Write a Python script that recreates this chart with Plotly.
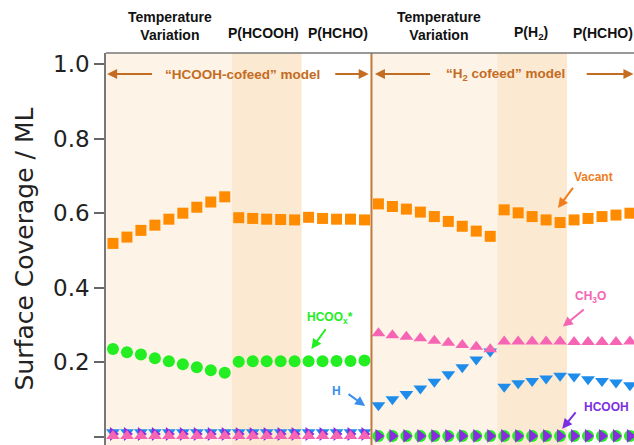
import plotly.graph_objects as go

# ---- data ----
# "HCOOH-cofeed" model: 9 temperature points, 5 P(HCOOH), 5 P(HCHO)
vacant_m1 = [0.519, 0.536, 0.554, 0.568, 0.584, 0.600, 0.616, 0.630, 0.644,
             0.588, 0.586, 0.584, 0.583, 0.582,
             0.589, 0.586, 0.584, 0.584, 0.582]
hcoox_m1 = [0.236, 0.227, 0.221, 0.211, 0.203, 0.195, 0.187, 0.179, 0.172,
            0.202, 0.203, 0.203, 0.203, 0.203,
            0.203, 0.203, 0.204, 0.204, 0.205]
h_m1 = [0.013] * 19
hcooh_m1 = [0.008] * 19
ch3o_m1 = [0.003] * 19

# "H2 cofeed" model: 9 temperature points, 5 P(H2), 5 P(HCHO)
vacant_m2 = [0.625, 0.618, 0.611, 0.603, 0.591, 0.578, 0.565, 0.552, 0.538,
             0.609, 0.601, 0.591, 0.582, 0.575,
             0.582, 0.586, 0.591, 0.595, 0.600]
ch3o_m2 = [0.278, 0.273, 0.269, 0.265, 0.258, 0.253, 0.247, 0.242, 0.235,
           0.256, 0.256, 0.256, 0.256, 0.256,
           0.255, 0.255, 0.255, 0.255, 0.256]
h_m2 = [0.085, 0.101, 0.115, 0.130, 0.148, 0.168, 0.187, 0.208, 0.229,
        0.135, 0.144, 0.150, 0.157, 0.164,
        0.162, 0.155, 0.150, 0.146, 0.139]
hcoox_m2 = [0.003] * 19
hcooh_m2 = [0.003] * 19

x_m1 = list(range(0, 19))
x_m2 = list(range(19, 38))
xs = x_m1 + x_m2

group_labels = ["Temperature<br>Variation", "P(HCOOH)", "P(HCHO)",
                "Temperature<br>Variation", "P(H<sub>2</sub>)", "P(HCHO)"]
group_centers = [4.1, 10.8, 16.1, 23.3, 29.9, 35.1]

ORANGE = "#FF8C00"
GREEN = "#22EE22"
BLUE = "#1E8CEB"
PURPLE = "#8A2BE2"
PINK = "#F565B4"
BROWN = "#C46C22"

fig = go.Figure()

def add(y, sym, col, size, name):
    fig.add_trace(go.Scatter(x=xs, y=y, mode="markers", name=name,
                             marker=dict(symbol=sym, color=col, size=size,
                                         line=dict(width=0)),
                             showlegend=False, cliponaxis=False))

add(vacant_m1 + vacant_m2, "square", ORANGE, 11, "Vacant")
add(hcoox_m1 + hcoox_m2, "circle", GREEN, 12, "HCOOx*")
add(h_m1 + h_m2, "triangle-down", BLUE, 12, "H")
add(hcooh_m1 + hcooh_m2, "triangle-right", PURPLE, 12, "HCOOH")
add(ch3o_m1 + ch3o_m2, "triangle-up", PINK, 12, "CH3O")

LIGHT = "#FDF3E7"
DARK = "#FCE9D2"
shapes = [
    dict(type="rect", xref="x", yref="paper", x0=-0.5, x1=8.5, y0=0, y1=1,
         fillcolor=LIGHT, line_width=0, layer="below"),
    dict(type="rect", xref="x", yref="paper", x0=8.5, x1=13.5, y0=0, y1=1,
         fillcolor=DARK, line_width=0, layer="below"),
    dict(type="rect", xref="x", yref="paper", x0=18.5, x1=27.5, y0=0, y1=1,
         fillcolor=LIGHT, line_width=0, layer="below"),
    dict(type="rect", xref="x", yref="paper", x0=27.5, x1=32.5, y0=0, y1=1,
         fillcolor=DARK, line_width=0, layer="below"),
    dict(type="line", xref="x", yref="paper", x0=18.5, x1=18.5, y0=0, y1=1,
         line=dict(color="#BF7A3C", width=2)),
    dict(type="line", xref="paper", yref="paper", x0=0, x1=1, y0=1, y1=1,
         line=dict(color="#777777", width=1.5)),
]

ann = []
for lab, c in zip(group_labels, group_centers):
    two = "<br>" in lab
    ann.append(dict(x=c, y=1.068 if two else 1.05, xref="x", yref="paper",
                    text="<b>" + lab + "</b>", showarrow=False,
                    font=dict(family="Liberation Sans, Arial", size=14, color="#111111"),
                    yanchor="middle"))

# model titles
ann.append(dict(x=9.3, y=0.973, xref="x", yref="y",
                text="<b>“HCOOH-cofeed” model</b>", showarrow=False,
                font=dict(family="Liberation Sans, Arial", size=13.5, color=BROWN)))
ann.append(dict(x=28.1, y=0.973, xref="x", yref="y",
                text="<b>“H<sub>2</sub> cofeed” model</b>", showarrow=False,
                font=dict(family="Liberation Sans, Arial", size=13.5, color=BROWN)))

def arrow(x0, y0, x1, y1, col, w=2):
    # tail (x0,y0) -> head (x1,y1)
    ann.append(dict(x=x1, y=y1, ax=x0, ay=y0, xref="x", yref="y",
                    axref="x", ayref="y", text="", showarrow=True,
                    arrowhead=2, arrowsize=1.0, arrowwidth=w,
                    arrowcolor=col, standoff=0, startstandoff=0))

arrow(2.9, 0.973, -0.42, 0.973, BROWN)
arrow(15.8, 0.973, 18.3, 0.973, BROWN)
arrow(22.8, 0.973, 18.75, 0.973, BROWN)
arrow(33.8, 0.973, 37.25, 0.973, BROWN)

def label(x, y, txt, col):
    ann.append(dict(x=x, y=y, xref="x", yref="y", text="<b>" + txt + "</b>",
                    showarrow=False,
                    font=dict(family="Liberation Sans, Arial", size=12, color=col)))

label(34.36, 0.697, "Vacant", "#F07D1E")
arrow(33.0, 0.672, 31.85, 0.614, "#F07D1E")
label(34.2, 0.375, "CH<sub>3</sub>O", PINK)
arrow(33.8, 0.345, 32.2, 0.296, PINK)
label(15.5, 0.318, "HCOO<sub>x</sub>*", GREEN)
arrow(15.3, 0.293, 14.2, 0.236, GREEN)
label(16.0, 0.123, "H", "#3A8EF0")
arrow(16.75, 0.118, 18.05, 0.083, "#3A8EF0")
label(35.3, 0.080, "HCOOH", "#7B2FE0")
arrow(33.2, 0.070, 32.15, 0.022, "#7B2FE0")

fig.update_layout(
    width=634, height=445,
    margin=dict(l=106, r=0, t=53, b=0),
    paper_bgcolor="white", plot_bgcolor="white",
    shapes=shapes, annotations=ann,
    xaxis=dict(range=[-0.5, 37.29], showgrid=False, zeroline=False,
               showticklabels=False, ticks="", showline=False),
    yaxis=dict(range=[-0.0214, 1.0295], showgrid=False, zeroline=False,
               tickvals=[0, 0.2, 0.4, 0.6, 0.8, 1.0],
               ticktext=["0.0", "0.2", "0.4", "0.6", "0.8", "1.0"],
               ticks="outside", ticklen=10, tickwidth=1.5, tickcolor="#666666",
               showline=True, linecolor="#777777", linewidth=1.5,
               tickfont=dict(family="DejaVu Sans", size=23, color="#222222"),
               title=dict(text="Surface Coverage / ML", standoff=12,
                          font=dict(family="DejaVu Sans", size=25, color="#222222"))),
)

fig.write_html("out.html")
